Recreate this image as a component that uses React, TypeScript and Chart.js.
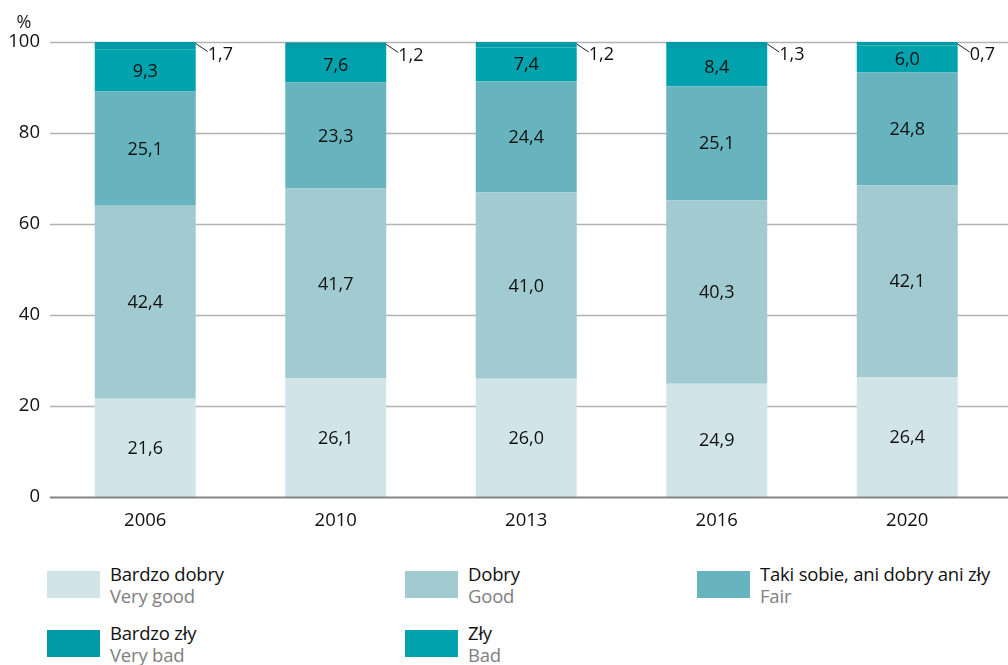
import React, { useEffect, useRef } from 'react';
import { Chart, registerables } from 'chart.js';
Chart.register(...registerables);

const categories = ['2006', '2010', '2013', '2016', '2020'];
const veryGood = [21.6, 26.1, 26.0, 24.9, 26.4];
const good = [42.4, 41.7, 41.0, 40.3, 42.1];
const fair = [25.1, 23.3, 24.4, 25.1, 24.8];
const bad = [9.3, 7.6, 7.4, 8.4, 6.0];
const veryBad = [1.7, 1.2, 1.2, 1.3, 0.7];
const yTicks = [0, 20, 40, 60, 80, 100];

const namesPl = ['Bardzo dobry', 'Dobry', 'Taki sobie, ani dobry ani zły', 'Zły', 'Bardzo zły'];
const namesEn = ['Very good', 'Good', 'Fair', 'Bad', 'Very bad'];
const colors = ['#D1E5E9', '#A2CBD1', '#67B4BE', '#00A2AD', '#009BA7'];

const FONT = "'Open Sans', sans-serif";
const fmt = (v: number) => v.toFixed(1).replace('.', ',');

const customPlugin = {
  id: 'custom',
  beforeDatasetsDraw(chart: any) {
    const { ctx, chartArea, scales } = chart;
    const y = scales.y;
    ctx.save();
    yTicks.forEach((v) => {
      if (v === 0) return;
      const py = Math.round(y.getPixelForValue(v)) + 0.5;
      ctx.strokeStyle = '#b2b2b2';
      ctx.lineWidth = 1.5;
      ctx.beginPath();
      ctx.moveTo(chartArea.left, py);
      ctx.lineTo(chart.width, py);
      ctx.stroke();
    });
    ctx.fillStyle = '#1a1a1a';
    ctx.font = `18px ${FONT}`;
    ctx.textAlign = 'center';
    ctx.textBaseline = 'middle';
    ctx.fillText('%', 24, 23);
    ctx.restore();
  },
  afterDatasetsDraw(chart: any) {
    const { ctx, chartArea, scales } = chart;
    const y = scales.y;
    ctx.save();
    const py0 = Math.round(y.getPixelForValue(0)) + 0.5;
    ctx.strokeStyle = '#858585';
    ctx.lineWidth = 1.8;
    ctx.beginPath();
    ctx.moveTo(chartArea.left, py0);
    ctx.lineTo(chart.width, py0);
    ctx.stroke();

    ctx.fillStyle = '#111';
    ctx.font = `18px ${FONT}`;
    ctx.textBaseline = 'middle';
    chart.data.datasets.forEach((ds: any, di: number) => {
      const meta = chart.getDatasetMeta(di);
      meta.data.forEach((el: any, i: number) => {
        const v = ds.data[i];
        if (di < 4) {
          ctx.textAlign = 'center';
          ctx.fillText(fmt(v), el.x, (el.y + el.base) / 2 + 1);
        } else {
          const rx = el.x + el.width / 2;
          const ty = el.y + 2;
          ctx.strokeStyle = '#222';
          ctx.lineWidth = 1;
          ctx.beginPath();
          ctx.moveTo(rx, ty);
          ctx.lineTo(rx + 12, ty + 8);
          ctx.stroke();
          ctx.textAlign = 'left';
          ctx.fillText(fmt(v), rx + 12, ty + 11);
        }
      });
    });
    ctx.restore();
  },
};

export default function App() {
  const ref = useRef<HTMLCanvasElement>(null);
  useEffect(() => {
    const dataArrays = [veryGood, good, fair, bad, veryBad];
    const chart = new Chart(ref.current!, {
      type: 'bar',
      data: {
        labels: categories,
        datasets: dataArrays.map((d, i) => ({
          label: namesPl[i],
          data: d,
          backgroundColor: colors[i],
          borderWidth: 0,
          barPercentage: 0.53,
          categoryPercentage: 1,
        })),
      },
      options: {
        animation: false,
        responsive: false,
        maintainAspectRatio: false,
        layout: { padding: { top: 42, right: 5.5, left: 0, bottom: 0 } },
        plugins: { legend: { display: false }, tooltip: { enabled: false }, title: { display: false } },
        scales: {
          x: {
            stacked: true,
            grid: { display: false, drawTicks: false },
            border: { display: false },
            ticks: { color: '#111', font: { family: FONT, size: 18.5 }, padding: 13 },
            afterFit: (s: any) => { s.height = 43; },
          },
          y: {
            stacked: true,
            min: 0,
            max: 100,
            ticks: { stepSize: 20, color: '#111', font: { family: FONT, size: 18.5 }, padding: 10 },
            grid: { display: false, drawTicks: false },
            border: { display: false },
            afterFit: (s: any) => { s.width = 50; },
          },
        },
      },
      plugins: [customPlugin],
    });
    return () => chart.destroy();
  }, []);

  const legendItems = [
    { i: 0, x: 47, y: 571 },
    { i: 1, x: 405, y: 571 },
    { i: 2, x: 697, y: 571 },
    { i: 4, x: 47, y: 630 },
    { i: 3, x: 405, y: 630 },
  ];

  return (
    <div style={{ position: 'absolute', left: 0, top: 0, width: 1008, height: 665, overflow: 'hidden', background: '#fff', fontFamily: FONT }}>
      <canvas ref={ref} width={1008} height={540} style={{ position: 'absolute', left: 0, top: 0, width: 1008, height: 540 }} />
      {legendItems.map((it) => (
        <React.Fragment key={it.i}>
          <div style={{ position: 'absolute', left: it.x, top: it.y, width: 53, height: 27, background: colors[it.i] }} />
          <div style={{ position: 'absolute', left: it.x + 63, top: it.y - 8, fontSize: 18.5, lineHeight: '22px', whiteSpace: 'nowrap', letterSpacing: '-0.2px' }}>
            <div style={{ color: '#111' }}>{namesPl[it.i]}</div>
            <div style={{ color: '#808080' }}>{namesEn[it.i]}</div>
          </div>
        </React.Fragment>
      ))}
    </div>
  );
}
